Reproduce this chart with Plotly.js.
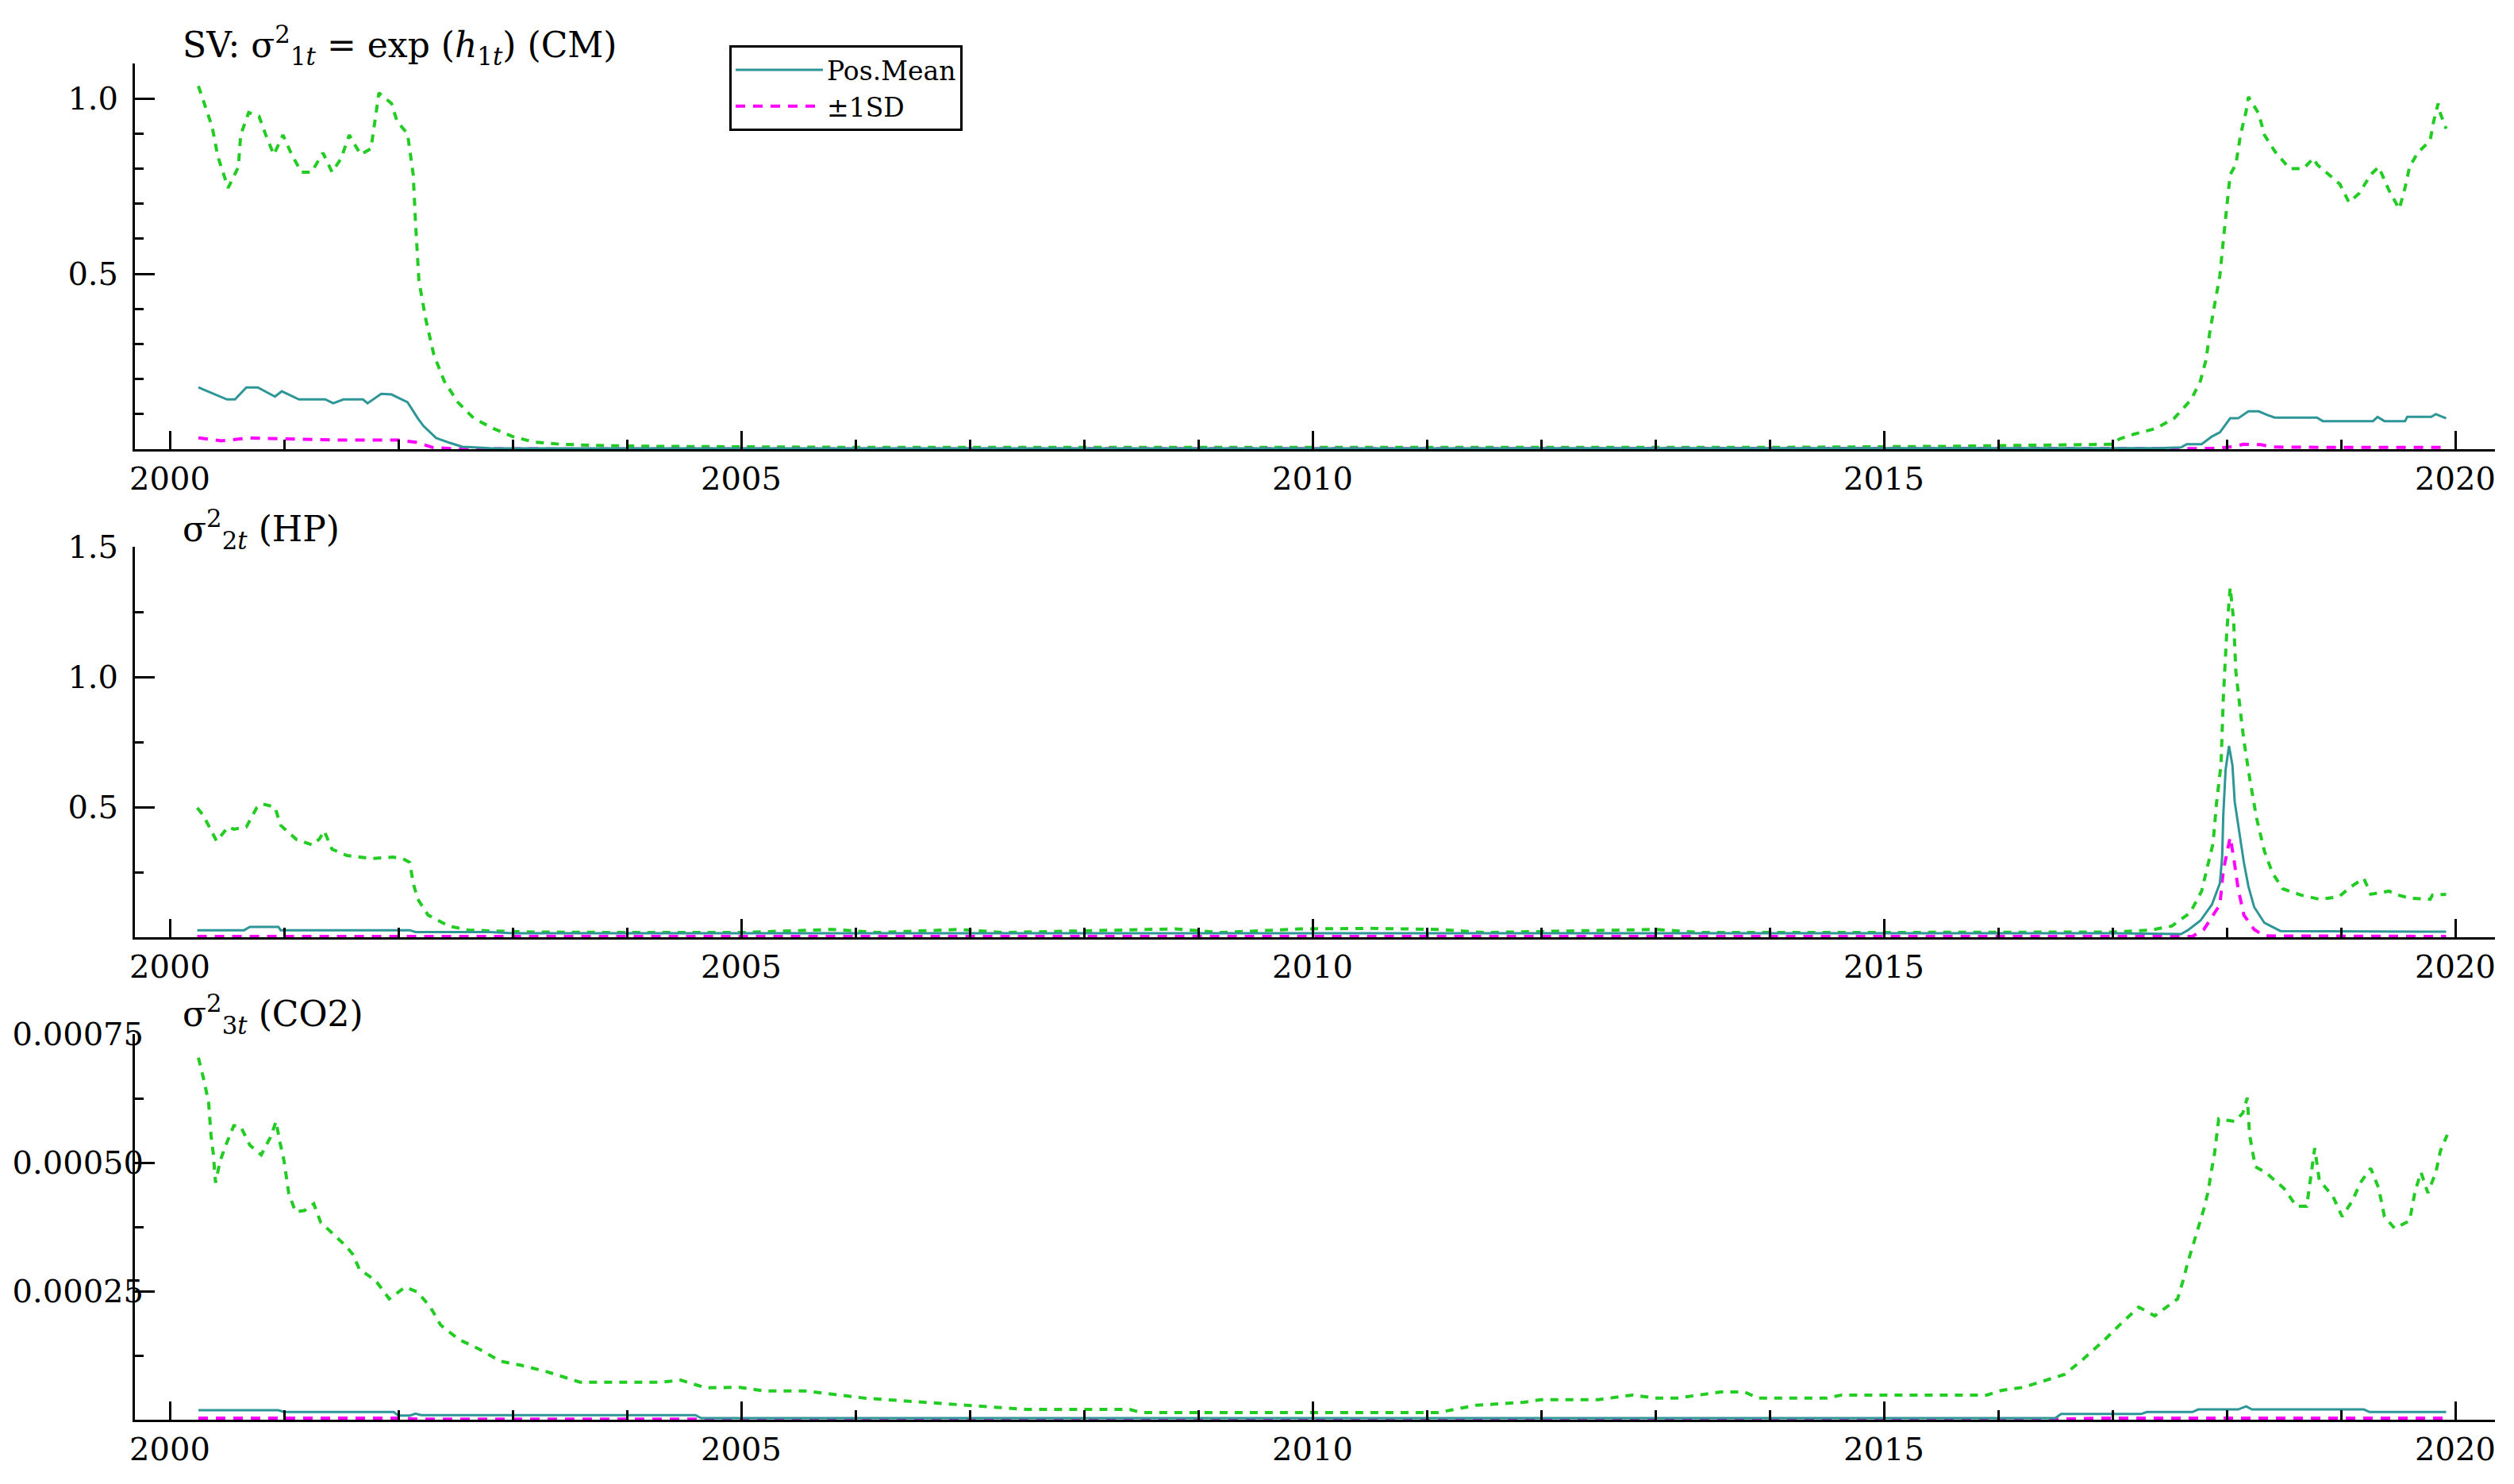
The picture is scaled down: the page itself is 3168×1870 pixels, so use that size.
<!DOCTYPE html>
<html>
<head>
<meta charset="utf-8">
<script src="https://cdn.plot.ly/plotly-3.0.1.min.js"></script>
<style>html,body{margin:0;padding:0;background:#fff;}#chart{width:3168px;height:1870px;}</style>
</head>
<body>
<div id="chart"></div>
<script>
// ---------- Panel 1: SV sigma^2_1t = exp(h_1t) (CM) ----------
const p1UpperX = [2000.25,2000.32,2000.37,2000.42,2000.51,2000.6,2000.62,2000.69,2000.78,2000.84,2000.91,2000.99,2001.06,2001.15,2001.24,2001.34,2001.42,2001.5,2001.57,2001.67,2001.76,2001.79,2001.83,2001.94,2001.99,2002.08,2002.13,2002.15,2002.18,2002.24,2002.31,2002.4,2002.52,2002.66,2002.83,2003.0,2003.19,2003.42,2003.8,2004.3,2005.0,2006,2008,2010,2012,2014,2015.5,2016.5,2017.0,2017.06,2017.19,2017.38,2017.54,2017.69,2017.77,2017.82,2017.85,2017.89,2017.94,2017.97,2018.0,2018.03,2018.08,2018.12,2018.17,2018.19,2018.28,2018.33,2018.42,2018.55,2018.67,2018.76,2018.79,2018.88,2018.99,2019.07,2019.16,2019.26,2019.33,2019.42,2019.51,2019.56,2019.6,2019.67,2019.78,2019.81,2019.85,2019.87,2019.92];
const p1Upper = [1.036,0.97,0.92,0.835,0.745,0.805,0.896,0.96,0.95,0.896,0.84,0.896,0.845,0.79,0.79,0.845,0.79,0.83,0.896,0.84,0.857,0.925,1.016,0.986,0.934,0.90,0.783,0.647,0.48,0.37,0.27,0.195,0.134,0.088,0.059,0.036,0.02,0.014,0.01,0.008,0.006,0.005,0.005,0.005,0.005,0.005,0.008,0.012,0.014,0.029,0.043,0.059,0.088,0.142,0.195,0.256,0.33,0.405,0.495,0.595,0.685,0.783,0.812,0.896,0.964,1.005,0.957,0.896,0.85,0.80,0.80,0.83,0.812,0.787,0.756,0.704,0.73,0.783,0.805,0.738,0.685,0.745,0.805,0.845,0.88,0.934,0.986,0.957,0.914];
const p1MeanX = [2000.25,2000.37,2000.5,2000.57,2000.67,2000.77,2000.92,2000.98,2001.13,2001.36,2001.43,2001.52,2001.69,2001.73,2001.85,2001.94,2002.08,2002.17,2002.22,2002.33,2002.45,2002.56,2002.8,2004,2008,2012,2016,2017.4,2017.6,2017.65,2017.78,2017.87,2017.94,2017.98,2018.03,2018.1,2018.19,2018.28,2018.35,2018.42,2018.79,2018.84,2019.28,2019.32,2019.38,2019.56,2019.58,2019.79,2019.83,2019.92];
const p1Mean = [0.176,0.16,0.142,0.142,0.176,0.176,0.15,0.165,0.142,0.142,0.131,0.142,0.142,0.131,0.158,0.156,0.134,0.088,0.066,0.032,0.018,0.007,0.003,0.002,0.002,0.002,0.002,0.003,0.005,0.014,0.014,0.036,0.048,0.066,0.088,0.088,0.108,0.108,0.098,0.09,0.09,0.08,0.08,0.092,0.08,0.08,0.092,0.092,0.1,0.088];
const p1LowerX = [2000.25,2000.45,2000.7,2001.0,2001.5,2002.0,2002.15,2002.3,2002.5,2005,2010,2015,2017.9,2018.05,2018.15,2018.3,2018.4,2019,2019.92];
const p1Lower = [0.032,0.024,0.032,0.03,0.026,0.026,0.02,0.005,0.001,0.0005,0.0005,0.0005,0.002,0.007,0.014,0.013,0.006,0.005,0.005];

// ---------- Panel 2: sigma^2_2t (HP) ----------
const p2UpperX = [2000.24,2000.29,2000.35,2000.41,2000.51,2000.56,2000.67,2000.76,2000.81,2000.92,2000.97,2001.11,2001.25,2001.31,2001.35,2001.42,2001.55,2001.77,2001.95,2002.04,2002.1,2002.13,2002.17,2002.26,2002.44,2002.62,2002.85,2003.2,2004,2005,2005.8,2006.2,2006.9,2007.3,2008.8,2009.2,2009.9,2010.5,2011.1,2011.5,2013,2013.4,2014.5,2016,2017.0,2017.33,2017.52,2017.68,2017.78,2017.88,2017.91,2017.95,2017.97,2018.0,2018.03,2018.06,2018.08,2018.12,2018.15,2018.2,2018.26,2018.33,2018.4,2018.49,2018.65,2018.81,2018.98,2019.09,2019.2,2019.26,2019.42,2019.5,2019.6,2019.78,2019.8,2019.92];
const p2Upper = [0.497,0.47,0.42,0.369,0.424,0.415,0.424,0.497,0.512,0.5,0.43,0.375,0.354,0.378,0.409,0.338,0.314,0.302,0.308,0.302,0.287,0.207,0.146,0.085,0.043,0.027,0.024,0.02,0.018,0.018,0.03,0.018,0.03,0.018,0.032,0.018,0.032,0.034,0.03,0.018,0.03,0.018,0.018,0.018,0.02,0.027,0.043,0.094,0.177,0.36,0.512,0.664,0.918,1.17,1.344,1.22,1.02,0.866,0.756,0.613,0.46,0.33,0.247,0.186,0.162,0.146,0.155,0.195,0.226,0.165,0.177,0.162,0.15,0.146,0.162,0.165];
const p2MeanX = [2000.24,2000.65,2000.7,2000.95,2000.97,2002.1,2002.15,2002.8,2003.0,2017.0,2017.6,2017.66,2017.77,2017.87,2017.94,2017.96,2017.97,2017.99,2018.02,2018.05,2018.07,2018.12,2018.15,2018.19,2018.24,2018.33,2018.47,2019.92];
const p2Mean = [0.027,0.027,0.04,0.04,0.027,0.027,0.02,0.02,0.015,0.015,0.012,0.027,0.064,0.125,0.207,0.308,0.47,0.643,0.735,0.66,0.52,0.378,0.287,0.195,0.116,0.055,0.024,0.021];
const p2LowerX = [2000.24,2017.7,2017.8,2017.94,2017.97,2018.0,2018.03,2018.06,2018.1,2018.15,2018.24,2018.33,2019.92];
const p2Lower = [0.003,0.003,0.03,0.125,0.256,0.317,0.384,0.308,0.186,0.085,0.03,0.005,0.003];

// ---------- Panel 3: sigma^2_3t (CO2) ----------
const p3UpperX = [2000.25,2000.3,2000.34,2000.36,2000.38,2000.4,2000.44,2000.49,2000.56,2000.62,2000.7,2000.8,2000.88,2000.93,2000.96,2001.0,2001.04,2001.1,2001.18,2001.26,2001.32,2001.44,2001.54,2001.6,2001.66,2001.8,2001.92,2002.06,2002.17,2002.28,2002.37,2002.53,2002.71,2002.89,2003.07,2003.29,2003.59,2003.89,2004.29,2004.47,2004.69,2004.99,2005.2,2005.56,2005.88,2006.08,2007.5,2008.4,2008.5,2011.1,2011.43,2011.85,2012.0,2012.5,2012.8,2013.0,2013.19,2013.42,2013.57,2013.78,2013.9,2014.5,2014.63,2015.9,2016.03,2016.22,2016.4,2016.58,2016.74,2016.92,2017.08,2017.23,2017.37,2017.57,2017.62,2017.66,2017.71,2017.75,2017.8,2017.84,2017.86,2017.89,2017.91,2017.93,2018.07,2018.14,2018.18,2018.2,2018.25,2018.34,2018.5,2018.61,2018.7,2018.74,2018.77,2018.81,2018.93,2019.01,2019.1,2019.17,2019.26,2019.33,2019.38,2019.47,2019.6,2019.65,2019.7,2019.76,2019.83,2019.87,2019.93];
const p3Upper = [0.000704,0.000659,0.000616,0.000554,0.000518,0.000461,0.000503,0.000534,0.000572,0.00057,0.000534,0.000515,0.000549,0.00058,0.000543,0.000503,0.000441,0.000404,0.000407,0.00042,0.000384,0.000358,0.000338,0.000322,0.000292,0.000271,0.000235,0.000258,0.000248,0.000219,0.000184,0.000156,0.000137,0.000114,0.000106,0.000094,0.000073,0.000073,0.000073,0.000077,0.000062,0.000063,0.000056,0.000056,0.000048,0.000042,0.00002,0.00002,0.000014,0.000014,0.000028,0.000034,0.000039,0.000039,0.000048,0.000042,0.000042,0.000049,0.000054,0.000054,0.000042,0.000042,0.000048,0.000048,0.000057,0.000063,0.000076,0.000088,0.000117,0.000153,0.000188,0.000219,0.000202,0.000235,0.000272,0.000307,0.000343,0.000373,0.00041,0.000446,0.000477,0.000512,0.000554,0.000585,0.00058,0.000596,0.000626,0.000554,0.000492,0.000481,0.00045,0.000415,0.000415,0.000481,0.000528,0.000466,0.000434,0.000395,0.000426,0.000461,0.000489,0.00045,0.000395,0.000372,0.000387,0.000446,0.000481,0.000441,0.000481,0.000523,0.000554];
const p3MeanX = [2000.25,2000.95,2001.0,2001.96,2002.0,2002.1,2002.15,2002.2,2004.6,2004.65,2016.5,2016.55,2017.25,2017.3,2017.7,2017.75,2018.1,2018.17,2018.22,2019.2,2019.25,2019.92];
const p3Mean = [0.0000185,0.0000185,0.000015,0.000015,0.000008,0.000008,0.000012,0.000009,0.000009,0.000003,0.000003,0.000011,0.000011,0.000015,0.000015,0.00002,0.00002,0.000026,0.00002,0.00002,0.000015,0.000015];
const p3LowerX = [2000.25,2002.0,2002.2,2004.6,2016.5,2016.9,2019.92];
const p3Lower = [0.000003,0.000003,0.000001,0.000001,0.000001,0.000003,0.000003];

// ---------- Tick labels / titles ----------
const xTickVals = [2000,2005,2010,2015,2020];
const xTickText = ["2000","2005","2010","2015","2020"];
const y1TickVals = [0.5,1.0];
const y1TickText = ["0.5","1.0"];
const y2TickVals = [0.5,1.0,1.5];
const y2TickText = ["0.5","1.0","1.5"];
const y3TickVals = [0.00025,0.0005,0.00075];
const y3TickText = ["0.00025","0.00050","0.00075"];
const panelTitles = [
  "SV: σ<sup>2</sup><sub>1<i>t</i></sub> = exp (<i>h</i><sub>1<i>t</i></sub>) (CM)",
  "σ<sup>2</sup><sub>2<i>t</i></sub> (HP)",
  "σ<sup>2</sup><sub>3<i>t</i></sub> (CO2)"
];
const seriesNames = ["Pos.Mean","±1SD"];

// ---------- Styles ----------
const W = 3168, H = 1870;
const TEAL = "#2E9696", GREEN = "#22CC22", MAGENTA = "#FF00FF";
const FONT = "DejaVu Serif, Liberation Serif, serif";

function traces(xa, ya, ux, u, mx, m, lx, l, legend) {
  return [
    {x: ux, y: u, xaxis: xa, yaxis: ya, type: "scatter", mode: "lines", showlegend: false,
     line: {color: GREEN, width: 4, dash: "10px,9px"}, hoverinfo: "skip"},
    {x: lx, y: l, xaxis: xa, yaxis: ya, type: "scatter", mode: "lines", name: seriesNames[1],
     showlegend: legend, legendrank: 2, line: {color: MAGENTA, width: 4, dash: "12px,10px"}},
    {x: mx, y: m, xaxis: xa, yaxis: ya, type: "scatter", mode: "lines", name: seriesNames[0],
     showlegend: legend, legendrank: 1, line: {color: TEAL, width: 3}}
  ];
}

const data = [].concat(
  traces("x", "y", p1UpperX, p1Upper, p1MeanX, p1Mean, p1LowerX, p1Lower, true),
  traces("x2", "y2", p2UpperX, p2Upper, p2MeanX, p2Mean, p2LowerX, p2Lower, false),
  traces("x3", "y3", p3UpperX, p3Upper, p3MeanX, p3Mean, p3LowerX, p3Lower, false)
);

const xDom = [170 / W, 3144 / W];
const xRange = [2000 + (170 - 214) / 144, 2000 + (3144 - 214) / 144];

function xAxis(anchor) {
  return {
    anchor: anchor, domain: xDom, range: xRange, showline: true, linecolor: "#000", linewidth: 3,
    showgrid: false, zeroline: false, ticks: "inside", ticklen: 23, tickwidth: 3, tickcolor: "#000",
    tickmode: "array", tickvals: xTickVals, ticktext: xTickText,
    tickfont: {family: FONT, size: 40, color: "#000"},
    minor: {dtick: 1, tick0: 2000, ticks: "inside", ticklen: 12, tickwidth: 3, tickcolor: "#000", showgrid: false},
    fixedrange: true
  };
}
function yAxis(anchor, dom, range, tv, tt, minorStep, standoff) {
  return {
    anchor: anchor, domain: dom, range: range, showline: true, linecolor: "#000", linewidth: 3,
    showgrid: false, zeroline: false, ticks: "inside", ticklen: 25, tickwidth: 3, tickcolor: "#000",
    tickmode: "array", tickvals: tv, ticktext: tt, ticklabelstandoff: standoff,
    tickfont: {family: FONT, size: 40, color: "#000"},
    minor: {dtick: minorStep, tick0: 0, ticks: "inside", ticklen: 11, tickwidth: 3, tickcolor: "#000", showgrid: false},
    fixedrange: true
  };
}

const layout = {
  width: W, height: H,
  margin: {l: 0, r: 0, t: 0, b: 0},
  paper_bgcolor: "#fff", plot_bgcolor: "#fff",
  font: {family: FONT, color: "#000"},
  xaxis: xAxis("y"),
  yaxis: yAxis("x", [1 - 566 / H, 1 - 80 / H], [0, 1.1], y1TickVals, y1TickText, 0.1, 10),
  xaxis2: xAxis("y2"),
  yaxis2: yAxis("x2", [1 - 1181 / H, 1 - 689 / H], [0, 1.5], y2TickVals, y2TickText, 0.25, 10),
  xaxis3: xAxis("y3"),
  yaxis3: yAxis("x3", [1 - 1789 / H, 1 - 1303 / H], [0, 0.00075], y3TickVals, y3TickText, 0.000125, -22),
  showlegend: true,
  legend: {
    x: 919 / W, y: 1 - 57 / H, xanchor: "left", yanchor: "top",
    bordercolor: "#000", borderwidth: 3, bgcolor: "#fff",
    font: {family: FONT, size: 33, color: "#000"}, traceorder: "normal", itemwidth: 110
  },
  annotations: [
    {text: panelTitles[0], xref: "paper", yref: "paper", x: 228 / W, y: 1 - 57 / H, xanchor: "left", yanchor: "middle", showarrow: false, font: {family: FONT, size: 44, color: "#000"}},
    {text: panelTitles[1], xref: "paper", yref: "paper", x: 228 / W, y: 1 - 667 / H, xanchor: "left", yanchor: "middle", showarrow: false, font: {family: FONT, size: 44, color: "#000"}},
    {text: panelTitles[2], xref: "paper", yref: "paper", x: 228 / W, y: 1 - 1278 / H, xanchor: "left", yanchor: "middle", showarrow: false, font: {family: FONT, size: 44, color: "#000"}}
  ]
};

Plotly.newPlot("chart", data, layout, {staticPlot: true, displayModeBar: false});
</script>
</body>
</html>
